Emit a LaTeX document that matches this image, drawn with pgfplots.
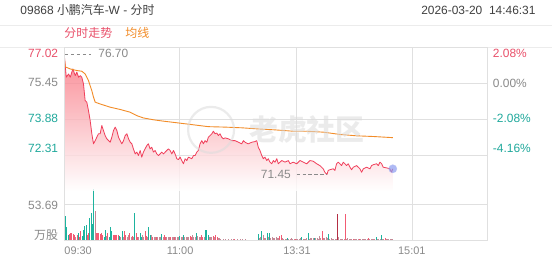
\documentclass[border=0pt]{standalone}
\usepackage{pgfplots}
\pgfplotsset{compat=1.18}
\usepackage{pgfplotstable}
\usepackage{fontspec}
\setmainfont{Liberation Sans}
\newfontfamily\cjk{Noto Sans CJK SC}
\definecolor{pred}{HTML}{F03E5A}
\definecolor{lred}{HTML}{E9506A}
\definecolor{porange}{HTML}{F28C28}
\definecolor{pteal}{HTML}{1DB39E}
\definecolor{lteal}{HTML}{20A99C}
\definecolor{gridc}{HTML}{E0E0E0}
\definecolor{lgray}{HTML}{8A8A8A}
\definecolor{hgray}{HTML}{404040}
\definecolor{vgray}{HTML}{C48A97}
\definecolor{wm}{HTML}{DCDCDC}
\definecolor{dotc}{HTML}{8C9CF0}

\pgfplotstableread{
m p
0 76.70
1.6 75.70
3.4 75.84
4.7 75.70
6.7 76.06
8.6 75.77
9.8 75.92
11.2 75.70
12.5 75.77
13.7 75.70
15.0 75.41
16.3 74.68
17.6 74.61
18.9 74.24
20.2 73.81
21.5 73.23
22.8 72.79
24.1 72.93
25.4 73.08
26.7 73.23
28.0 73.23
29.3 73.59
30.6 73.37
31.9 73.15
33.2 73.01
35.8 72.86
37.1 73.08
38.4 73.37
39.7 73.52
41.0 73.37
42.3 73.08
43.6 72.93
44.9 72.79
46.2 72.93
47.5 73.15
48.8 73.23
50.1 73.01
51.4 72.86
52.7 72.79
53.9 72.57
55.3 72.35
56.6 72.43
57.8 72.28
59.2 72.50
60.4 72.21
61.7 72.43
63.0 72.57
64.4 72.72
65.6 72.79
66.9 72.57
68.2 72.64
69.5 72.43
70.8 72.50
72.1 72.35
73.4 72.28
74.7 72.35
76.0 72.43
77.3 72.35
79.9 72.50
81.2 72.57
82.5 72.50
83.8 72.35
85.1 72.50
86.4 72.35
87.7 72.14
89.0 72.10
90.3 72.21
91.6 72.06
92.9 71.92
94.2 72.14
95.5 72.06
96.8 72.21
99.4 72.14
100.7 72.28
102.0 72.28
103.3 72.43
104.5 72.50
105.8 72.79
107.2 72.93
108.4 72.79
109.7 72.93
111.1 72.86
112.3 73.08
113.6 73.15
115.0 73.23
116.2 73.34
117.5 73.23
118.9 73.26
120.1 73.15
121.4 73.23
122.7 73.08
124.0 73.01
125.3 73.05
127.9 73.01
130.5 72.93
133.1 72.93
135.7 72.86
138.3 72.79
139.6 72.93
140.9 72.86
143.4 72.79
146.1 72.86
148.7 72.89
150.0 72.93
151.2 72.64
152.5 72.50
153.9 72.28
155.1 72.14
156.4 72.21
157.8 72.06
159.0 72.14
160.3 71.99
161.7 71.92
162.9 72.06
164.2 71.99
165.6 72.14
166.8 71.92
168.1 71.99
169.5 72.06
172.0 71.99
174.6 72.06
175.9 71.92
178.5 71.99
181.1 71.92
183.7 72.06
186.2 71.99
188.9 71.92
191.5 72.06
194.0 72.03
196.7 71.92
199.2 71.84
201.8 71.70
203.1 71.55
204.7 71.45
205.7 71.63
207.0 71.66
209.6 71.70
210.9 71.63
212.2 71.92
213.5 71.99
214.8 71.92
216.1 71.84
217.4 71.99
218.7 71.92
220.0 71.84
221.3 71.92
222.6 71.77
223.9 71.66
225.2 71.77
227.8 71.84
230.4 71.70
231.7 71.55
233.0 71.70
235.6 71.77
238.2 71.70
239.5 71.84
240.8 71.88
243.4 71.92
244.7 71.84
246.0 71.99
247.3 71.92
248.5 71.77
251.2 71.74
253.7 71.70
255.0 71.55
256.0 71.70
}\price

\pgfplotstableread{
m p
0 76.60
0.8 76.15
4.7 76.06
9.8 75.99
13.7 75.96
16.3 75.84
18.9 75.55
21.5 75.11
22.8 74.83
24.1 74.61
28.0 74.53
35.8 74.39
43.6 74.29
51.4 74.17
56.6 74.02
61.7 73.92
69.5 73.84
77.3 73.78
87.7 73.71
99.4 73.63
112.3 73.54
125.3 73.52
138.3 73.49
151.2 73.44
164.2 73.40
178.5 73.34
188.9 73.34
201.8 73.30
214.8 73.20
227.8 73.14
240.8 73.11
256.0 73.06
}\avgp

\begin{document}
\begin{tikzpicture}
\fill[white] (0bp,0bp) rectangle (552bp,265bp);
% header
\node[anchor=west, text=hgray, font=\fontsize{12}{12}\selectfont, inner sep=0] at (20bp,255bp) {09868 {\cjk 小鹏汽车}-W - {\cjk 分时}};
\node[anchor=east, text=hgray, font=\fontsize{12}{12}\selectfont, inner sep=0] at (536bp,255bp) {2026-03-20\ \ 14:46:31};
\draw[gridc!60, line width=0.6bp] (0bp,240bp) -- (552bp,240bp);
\node[anchor=west, text=lred, font=\cjk\fontsize{12}{12}\selectfont, inner sep=0] at (64bp,232bp) {分时走势};
\node[anchor=west, text=porange, font=\cjk\fontsize{12}{12}\selectfont, inner sep=0] at (125bp,232bp) {均线};
\draw[gridc!60, line width=0.6bp] (0bp,218bp) -- (552bp,218bp);

% volume panel
\begin{axis}[at={(64bp,24bp)}, anchor=south west, scale only axis,
  width=424bp, height=53bp, xmin=0, xmax=330, ymin=0, ymax=79.04,
  axis line style={draw=none}, tick style={draw=none},
  xtick={90,181,271}, ytick={53.69}, xticklabels={,,}, yticklabels={,},
  grid=major, major grid style={gridc, line width=0.6pt},
  clip mode=individual]
\addplot[ycomb, pred!85, line width=0.9pt] coordinates {
(0,34) (4,10) (5,11) (6,11) (7,10) (8,9) (10,8) (12,6) (13,14) (18,8) (19,11)
(25,11) (26,11) (27,12) (28,10) (29,11) (30,8) (34,11) (38,9) (39,9) (40,9) (41,8) (42,9)
(47,15) (48,8) (51,11) (53,7) (56,11) (57,6) (63,14) (64,7) (69,5) (72,5) (78,9) (79,6)
(83,5) (86,5) (98,7) (99,5) (107,9) (108,6) (116,7) (118,9) (119,6) (133,2) (168,7) (169,9)
(180,3) (201,14) (219,40) (225,3) (230,3) (237,4) (250,4)};
\addplot[ycomb, pred!75!black, line width=0.9pt] coordinates {(213,40)};
\addplot[ycomb, pteal, line width=0.9pt] coordinates {
(1,37) (2,21) (3,8) (11,11) (14,7) (15,16) (16,22) (17,24) (20,34) (21,41) (22,25) (23,77)
(31,6) (32,16) (35,6) (36,20) (37,14) (43,7) (45,14) (55,41) (59,11) (60,6) (66,20) (67,8)
(76,10) (90,7) (93,9) (103,11) (110,16) (111,16) (112,8) (151,10) (154,14) (158,11) (160,12)
(174,4) (185,6) (190,12) (195,4) (206,10) (243,5) (247,9)};
\addplot[ycomb, vgray, line width=0.9pt] coordinates {
(9,6) (24,45) (33,7) (44,6) (46,6) (49,5) (50,9) (52,6) (54,6) (58,6) (61,9) (62,6) (65,6)
(68,9) (70,6) (71,6) (73,6) (74,6) (75,5) (77,5) (80,6) (81,6) (82,6) (84,6) (85,6) (87,6)
(88,6) (89,6) (91,5) (92,5) (94,5) (95,6) (96,5) (97,5) (100,9) (101,5) (102,5) (104,7)
(105,5) (106,5) (109,6) (113,6) (114,5) (115,5) (117,5) (120,4) (121,4) (122,3) (124,2)
(126,2) (128,2) (130,2) (132,2) (135,2) (137,2) (139,2) (141,2) (143,1.5) (145,1.5)
(147,1.5) (149,1.5) (152,4) (153,5) (155,9) (156,4) (157,4) (159,5) (161,4) (162,6) (163,4)
(164,4) (165,6) (166,4) (167,4) (170,4) (171,3) (172,3) (173,3) (175,3) (176,3) (177,4)
(178,3) (179,3) (181,3) (182,3) (183,3) (184,4) (186,3) (187,3) (188,3) (189,4) (191,3)
(192,4) (193,4) (194,4) (196,4) (197,4) (198,3) (199,7) (200,4) (202,4) (203,4) (204,6)
(205,4) (207,3) (208,4) (209,3) (210,3) (211,3) (212,3) (214,6) (215,3) (216,3) (217,3)
(218,3) (220,3) (221,4) (222,3) (223,3) (224,3) (226,3) (227,3) (228,3) (229,2) (231,3)
(232,3) (233,3) (234,2) (235,3) (236,3) (238,3) (239,3) (240,3) (241,3) (242,3) (244,3)
(245,3) (246,3) (248,3) (249,3) (251,3) (252,3) (253,2) (254,3) (255,3) (256,2)};
\end{axis}

% price panel
\begin{axis}[at={(64bp,74bp)}, anchor=south west, scale only axis,
  width=424bp, height=144bp, xmin=0, xmax=330, ymin=70.74, ymax=77.02,
  axis line style={draw=none}, tick style={draw=none},
  xtick={90,181,271}, ytick={72.31,73.88,75.45}, xticklabels={,,}, yticklabels={,,,},
  grid=major, major grid style={gridc, line width=0.6pt},
  clip mode=individual]
\addplot[draw=none, top color={rgb,255:red,248;green,112;blue,124}, bottom color=white, fill opacity=0.8]
  table {\price} -- (axis cs:256,70.74) -- (axis cs:0,70.74) -- cycle;
\addplot[pred, line width=0.8pt, line join=round] table {\price};
\addplot[porange, line width=0.9pt, line join=round] table {\avgp};
\addplot[lgray, line width=1pt, dash pattern=on 3.5pt off 2.5pt] coordinates {(0.5,76.70) (21,76.70)};
\addplot[lgray, line width=1pt, dash pattern=on 3.5pt off 2.5pt] coordinates {(181,71.45) (204.7,71.45)};
\addplot[only marks, mark=*, mark size=4.2pt, mark options={fill=dotc, fill opacity=0.7, draw=dotc!60, draw opacity=0.6}] coordinates {(256,71.70)};
\end{axis}

% frame
\draw[gridc, line width=0.6bp] (64bp,24bp) rectangle (488bp,218bp);

% watermark
\draw[wm, line width=2.2bp, opacity=0.55] (211bp,135bp) circle (23bp);
\node[text=wm, opacity=0.55, font=\cjk\bfseries\fontsize{29}{29}\selectfont, inner sep=0] at (307bp,135bp) {老虎社区};

% annotations
\node[anchor=west, text=lgray, font=\fontsize{12}{12}\selectfont, inner sep=0] at (98bp,212bp) {76.70};
\node[anchor=east, text=lgray, font=\fontsize{12}{12}\selectfont, inner sep=0] at (291bp,90bp) {71.45};

% left labels
\begin{scope}[every node/.style={anchor=east, inner sep=0, font=\fontsize{12}{12}\selectfont}]
\node[text=lred] at (58bp,212bp) {77.02};
\node[text=lgray] at (58bp,182bp) {75.45};
\node[text=lteal] at (58bp,146bp) {73.88};
\node[text=lteal] at (58bp,116bp) {72.31};
\node[text=lgray] at (58bp,59bp) {53.69};
\node[text=lgray, font=\cjk\fontsize{12}{12}\selectfont] at (58bp,29.5bp) {万股};
\end{scope}
% right labels
\begin{scope}[every node/.style={anchor=west, inner sep=0, font=\fontsize{12}{12}\selectfont}]
\node[text=lred] at (493bp,212bp) {2.08\%};
\node[text=lgray] at (493bp,182bp) {0.00\%};
\node[text=lteal] at (493bp,146bp) {-2.08\%};
\node[text=lteal] at (493bp,116bp) {-4.16\%};
\end{scope}
% x labels
\begin{scope}[every node/.style={inner sep=0, text=lgray, font=\fontsize{11}{11}\selectfont}]
\node[anchor=west] at (64bp,14bp) {09:30};
\node at (180bp,14bp) {11:00};
\node at (297bp,14bp) {13:31};
\node at (412bp,14bp) {15:01};
\end{scope}
\end{tikzpicture}
\end{document}
